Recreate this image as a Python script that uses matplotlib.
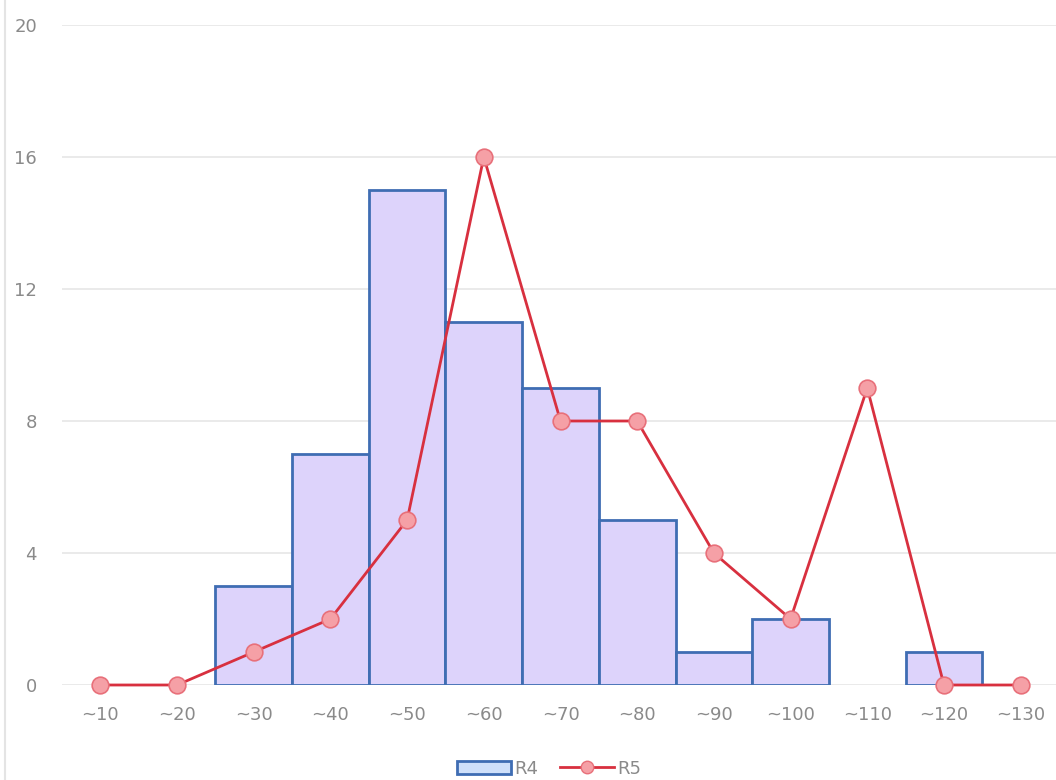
import matplotlib.pyplot as plt
from matplotlib.patches import Patch
from matplotlib.lines import Line2D

categories = ['~10', '~20', '~30', '~40', '~50', '~60', '~70',
              '~80', '~90', '~100', '~110', '~120', '~130']
r4_values = [0, 0, 3, 7, 15, 11, 9, 5, 1, 2, 0, 1, 0]
r5_values = [0, 0, 1, 2, 5, 16, 8, 8, 4, 2, 9, 0, 0]
y_ticks = [0, 4, 8, 12, 16, 20]

BAR_FILL = '#ddd3fb'
BAR_EDGE = '#3f6db3'
LINE_COLOR = '#d8303f'
MARKER_FILL = '#f5a0a6'
TEXT_COLOR = '#8a8a8a'
GRID_COLOR = '#e6e6e6'


def main():
    fig = plt.figure(figsize=(10.56, 7.8), dpi=100)
    ax = fig.add_axes([62 / 1056, 95 / 780, 997 / 1056, 660 / 780])

    x = list(range(len(categories)))
    widths = [2 if v > 0 else 0 for v in r4_values]
    ax.bar(x, r4_values, width=1.0, color=BAR_FILL, edgecolor=BAR_EDGE,
           linewidth=widths, zorder=2)
    ax.plot(x, r5_values, color=LINE_COLOR, linewidth=2, marker='o',
            markersize=12, markerfacecolor=MARKER_FILL,
            markeredgecolor='#e8707a', markeredgewidth=1.2, zorder=3,
            clip_on=False)

    ax.set_xlim(-0.5, len(categories) - 0.5)
    ax.set_ylim(0, 20)
    ax.set_yticks(y_ticks)
    ax.set_xticks(x)
    ax.set_xticklabels(categories)
    ax.tick_params(axis='both', length=0, colors=TEXT_COLOR, labelsize=13)
    ax.tick_params(axis='x', pad=15)
    ax.tick_params(axis='y', pad=18)
    for spine in ax.spines.values():
        spine.set_visible(False)
    ax.grid(axis='y', color=GRID_COLOR, linewidth=1.2, zorder=0)
    ax.set_axisbelow(True)

    # thin page border on the left edge
    fig.add_artist(Line2D([5 / 1056, 5 / 1056], [0, 1], color='#e4e4e4',
                          linewidth=1.5, transform=fig.transFigure))

    handles = [
        Patch(facecolor='#cfe0fa', edgecolor=BAR_EDGE, linewidth=2, label='R4'),
        Line2D([0], [0], color=LINE_COLOR, linewidth=2, marker='o',
               markersize=9, markerfacecolor=MARKER_FILL,
               markeredgecolor='#e8707a', label='R5'),
    ]
    fig.legend(handles=handles, loc='lower center', bbox_to_anchor=(0.52, -0.018),
               ncol=2, frameon=False, fontsize=13, labelcolor=TEXT_COLOR,
               handlelength=3.0, handletextpad=0.2, columnspacing=1.2)

    fig.savefig('out.png', dpi=100)


if __name__ == '__main__':
    main()
